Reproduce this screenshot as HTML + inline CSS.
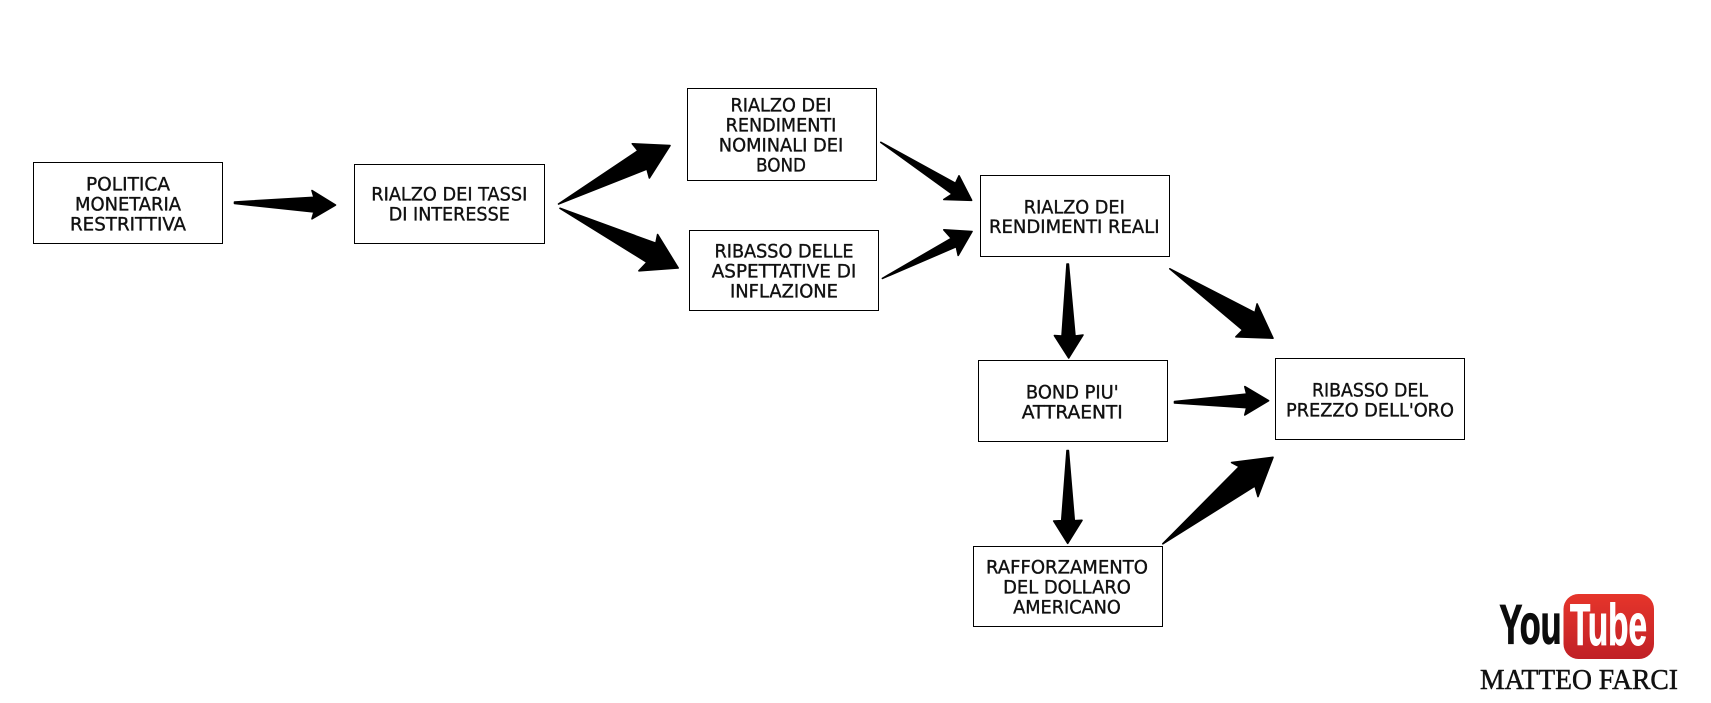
<!DOCTYPE html>
<html>
<head>
<meta charset="utf-8">
<style>
html,body{margin:0;padding:0;background:#fff;}
svg{display:block;}
.t{font-family:"DejaVu Sans Condensed","DejaVu Sans","Liberation Sans",sans-serif;font-size:19px;fill:#111;stroke:#111;stroke-width:.35px;text-anchor:middle;}
</style>
</head>
<body>
<svg width="1711" height="703" viewBox="0 0 1711 703" xmlns="http://www.w3.org/2000/svg">
<defs>
<linearGradient id="r" x1="0" y1="0" x2="0" y2="1"><stop offset="0" stop-color="#e6352b"/><stop offset="1" stop-color="#c02026"/></linearGradient>
</defs>
<rect width="1711" height="703" fill="#fff"/>
<g fill="#fff" stroke="#000" stroke-width="1">
<rect x="33.5" y="162.5" width="189" height="81"/>
<rect x="354.5" y="164.5" width="190" height="79"/>
<rect x="687.5" y="88.5" width="189" height="92"/>
<rect x="689.5" y="230.5" width="189" height="80"/>
<rect x="980.5" y="175.5" width="189" height="81"/>
<rect x="978.5" y="360.5" width="189" height="81"/>
<rect x="1275.5" y="358.5" width="189" height="81"/>
<rect x="973.5" y="546.5" width="189" height="80"/>
</g>
<g fill="#000" stroke="#000" stroke-width="1.6" stroke-linejoin="round">
<polygon points="234.5,202 314,197.3 312,190.5 335.5,205 312,218.8 314,212 234.5,203.5"/>
<polygon points="558.5,204 638,150.7 632.3,143.8 670,145.6 649.4,178 647,169"/>
<polygon points="560,208.3 655.9,243.3 657.6,234.5 678.2,268 638.9,270.8 647,262.3"/>
<polygon points="880.8,142.3 955.5,183.3 959,175.8 971.6,200.3 943.8,199.5 952.2,194"/>
<polygon points="882.4,278.4 956.3,246.7 958.2,255.4 972,231.5 943.8,229.8 951.4,238.3"/>
<polygon points="1067,264 1068.4,264 1075,336 1083,335 1068.7,358 1054.4,335.6 1062,336"/>
<polygon points="1169.8,268.8 1255,312.7 1257.1,303.9 1273,338.2 1235.9,336.8 1242.7,330"/>
<polygon points="1174.5,401.5 1246.7,394 1244.8,386.6 1268.6,400.7 1244.8,415 1246.7,407.7 1174.5,403"/>
<polygon points="1067,450.6 1068.4,450.6 1074.3,520.7 1082,520.3 1067.7,543.3 1053.7,521 1061.7,520.7"/>
<polygon points="1162.8,543.8 1239.3,466.7 1231.6,462.5 1273,457.3 1258,496.6 1255,486"/>
</g>
<g>
<text class="t" x="128" y="190.7" textLength="84" lengthAdjust="spacingAndGlyphs">POLITICA</text>
<text class="t" x="128" y="210.7" textLength="106" lengthAdjust="spacingAndGlyphs">MONETARIA</text>
<text class="t" x="128" y="230.6" textLength="116" lengthAdjust="spacingAndGlyphs">RESTRITTIVA</text>
<text class="t" x="449.3" y="200.7" textLength="156" lengthAdjust="spacingAndGlyphs">RIALZO DEI TASSI</text>
<text class="t" x="449.3" y="220.6" textLength="121" lengthAdjust="spacingAndGlyphs">DI INTERESSE</text>
<text class="t" x="781" y="111.7" textLength="101" lengthAdjust="spacingAndGlyphs">RIALZO DEI</text>
<text class="t" x="781" y="131.7" textLength="110.6" lengthAdjust="spacingAndGlyphs">RENDIMENTI</text>
<text class="t" x="781" y="151.7" textLength="124.5" lengthAdjust="spacingAndGlyphs">NOMINALI DEI</text>
<text class="t" x="781" y="171.7" textLength="50" lengthAdjust="spacingAndGlyphs">BOND</text>
<text class="t" x="784" y="257.7" textLength="139" lengthAdjust="spacingAndGlyphs">RIBASSO DELLE</text>
<text class="t" x="784" y="277.7" textLength="144.5" lengthAdjust="spacingAndGlyphs">ASPETTATIVE DI</text>
<text class="t" x="784" y="297.7" textLength="108" lengthAdjust="spacingAndGlyphs">INFLAZIONE</text>
<text class="t" x="1074.3" y="213.4" textLength="101" lengthAdjust="spacingAndGlyphs">RIALZO DEI</text>
<text class="t" x="1074.3" y="233.1" textLength="170.6" lengthAdjust="spacingAndGlyphs">RENDIMENTI REALI</text>
<text class="t" x="1072.3" y="398.3" textLength="92.7" lengthAdjust="spacingAndGlyphs">BOND PIU'</text>
<text class="t" x="1072.3" y="418.7" textLength="101" lengthAdjust="spacingAndGlyphs">ATTRAENTI</text>
<text class="t" x="1370" y="396.7" textLength="116" lengthAdjust="spacingAndGlyphs">RIBASSO DEL</text>
<text class="t" x="1370" y="416.7" textLength="168" lengthAdjust="spacingAndGlyphs">PREZZO DELL'ORO</text>
<text class="t" x="1067" y="573.7" textLength="162" lengthAdjust="spacingAndGlyphs">RAFFORZAMENTO</text>
<text class="t" x="1067" y="593.7" textLength="127.7" lengthAdjust="spacingAndGlyphs">DEL DOLLARO</text>
<text class="t" x="1067" y="613.7" textLength="107.7" lengthAdjust="spacingAndGlyphs">AMERICANO</text>
</g>
<rect x="1563.5" y="594" width="90.5" height="65" rx="15" ry="15" fill="url(#r)"/>
<text x="1499.5" y="643.5" font-family="'Liberation Sans',sans-serif" font-weight="bold" font-size="56" fill="#0c0c0c" stroke="#0c0c0c" stroke-width="1.2" textLength="62" lengthAdjust="spacingAndGlyphs">You</text>
<text x="1570" y="645" font-family="'Liberation Sans',sans-serif" font-weight="bold" font-size="58" fill="#fff" stroke="#fff" stroke-width="1" textLength="77" lengthAdjust="spacingAndGlyphs">Tube</text>
<text x="1480" y="689" font-family="'Liberation Serif',serif" font-size="28.5" fill="#111" stroke="#111" stroke-width=".5" textLength="198" lengthAdjust="spacingAndGlyphs">MATTEO FARCI</text>
</svg>
</body>
</html>
